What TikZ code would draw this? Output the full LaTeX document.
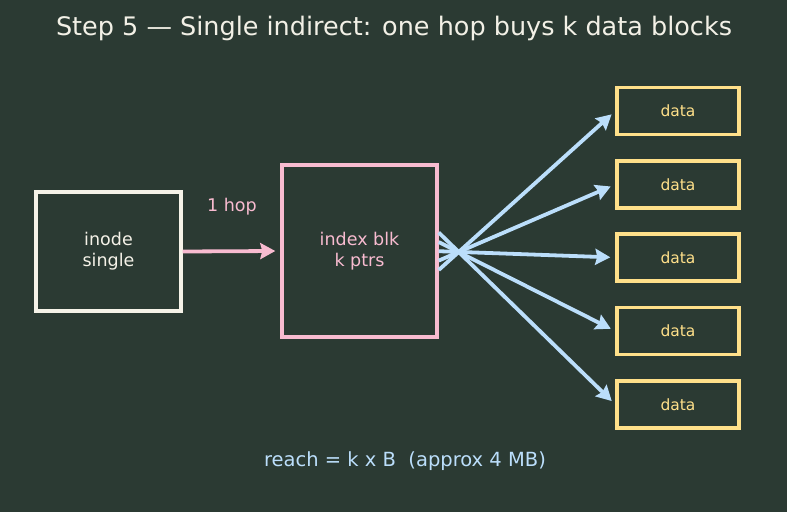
\documentclass[tikz,border=0pt]{standalone}
\usepackage{fontspec}
\setmainfont{DejaVu Sans}
\usetikzlibrary{arrows.meta,calc}
\definecolor{bg}{HTML}{2B3A33}
\definecolor{titlec}{HTML}{F2F0E6}
\definecolor{inodec}{HTML}{F5F2E8}
\definecolor{pinkc}{HTML}{F8BBD0}
\definecolor{bluec}{HTML}{BBDEFB}
\definecolor{yellowc}{HTML}{FFE08A}
\tikzset{
  boxst/.style={draw, line width=3.4pt, fill=bg, inner sep=0pt, align=center},
  datast/.style={boxst, draw=yellowc, text=yellowc, minimum width=122pt, minimum height=47pt, font=\fontsize{15.5}{18}\selectfont},
  fanarrow/.style={draw=bluec, line width=3.8pt, -{Stealth[length=15pt,width=16pt,inset=2pt]}, shorten >=5pt},
  hoparrow/.style={draw=pinkc, line width=3.8pt, -{Stealth[length=15pt,width=16pt,inset=2pt]}}
}
\begin{document}
\begin{tikzpicture}[x=1pt,y=-1pt]
\fill[bg] (0,0) rectangle (787,512);
\useasboundingbox (0,0) rectangle (787,512);
\node[text=titlec, font=\fontsize{25.5}{30}\selectfont] (title) at (394,28) {Step 5 — Single indirect: one hop buys k data blocks};
\node[boxst, draw=inodec, text=inodec, minimum width=145pt, minimum height=119pt, font=\fontsize{17.5}{21}\selectfont] (inode) at (108.5,251.5) {inode\\single};
\node[boxst, draw=pinkc, text=pinkc, minimum width=155pt, minimum height=172pt, font=\fontsize{17.5}{21}\selectfont] (ib) at (359.5,251) {index blk\\k ptrs};
\node[text=pinkc, font=\fontsize{17.5}{21}\selectfont] (hop) at (232,207) {1 hop};
\draw[hoparrow] (inode.east) -- ($(ib.west)+(-5,0)$) coordinate (hopend);
\node[datast] (d1) at (678,111) {data};
\node[datast] (d2) at (678,184.5) {data};
\node[datast] (d3) at (678,257.5) {data};
\node[datast] (d4) at (678,331) {data};
\node[datast] (d5) at (678,404.5) {data};
\coordinate (p1) at ($(ib.east)+(0,19)$);
\coordinate (p2) at ($(ib.east)+(0,9.6)$);
\coordinate (p3) at ($(ib.east)+(0,0.2)$);
\coordinate (p4) at ($(ib.east)+(0,-9)$);
\coordinate (p5) at ($(ib.east)+(0,-18.5)$);
\draw[fanarrow] (p1) -- (d1.west);
\draw[fanarrow] (p2) -- (d2.west);
\draw[fanarrow] (p3) -- (d3.west);
\draw[fanarrow] (p4) -- (d4.west);
\draw[fanarrow] (p5) -- (d5.west);
\node[text=bluec, font=\fontsize{19.5}{23}\selectfont] (reach) at (405,461) {reach = k x B\ \ (approx 4 MB)};
\end{tikzpicture}
\end{document}
